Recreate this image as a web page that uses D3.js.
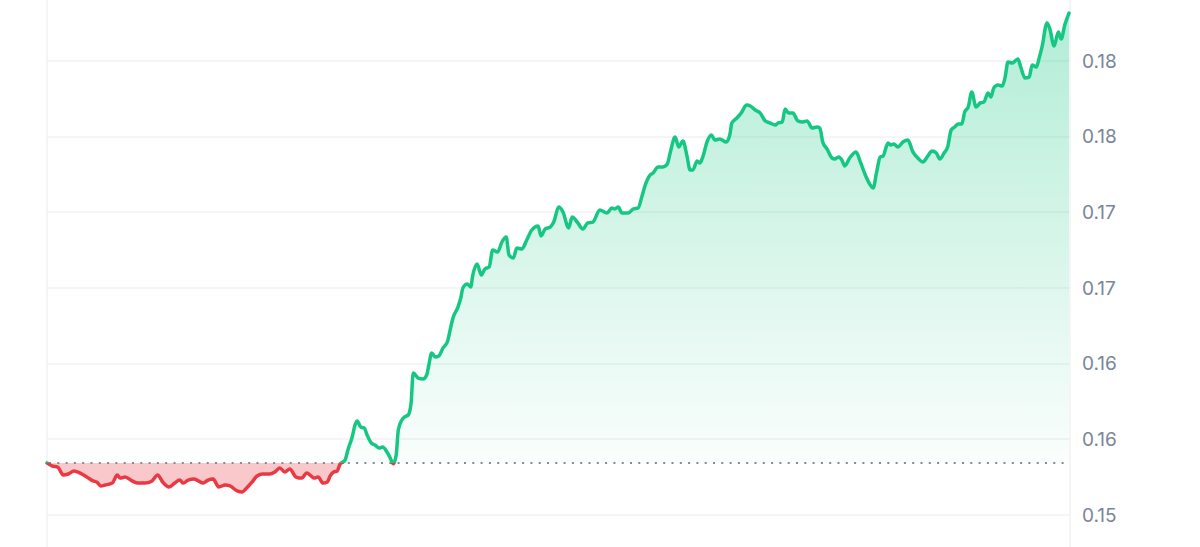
<!DOCTYPE html>
<html>
<head>
<meta charset="utf-8">
<script src="https://cdn.jsdelivr.net/npm/d3@7"></script>
<style>
  body { margin: 0; background: #fff; }
  svg { display: block; font-family: Inter, "Noto Sans", sans-serif; }
</style>
</head>
<body>
<div id="chart"></div>
<script>
// Minutes since the start of the 24h window
const minutes = [
  0, 7, 15, 23, 30, 38, 46, 56, 65, 70,
  76, 82, 92, 99, 103, 110, 120, 128, 138, 148,
  156, 163, 172, 180, 187, 192, 199, 207, 220, 227,
  234, 242, 251, 258, 268, 275, 280, 289, 296, 304,
  314, 321, 328, 335, 342, 351, 359, 366, 372, 376,
  382, 389, 395, 399, 404, 409, 413, 417, 420, 424,
  430, 434, 437, 442, 447, 451, 457, 462, 468, 473,
  479, 483, 488, 492, 495, 500, 504, 509, 513, 516,
  523, 530, 535, 538, 542, 547, 552, 558, 564, 568,
  572, 579, 583, 586, 592, 597, 600, 606, 612, 617,
  623, 628, 635, 641, 647, 651, 657, 662, 669, 676,
  683, 692, 696, 702, 709, 714, 721, 727, 735, 740,
  747, 755, 762, 769, 779, 789, 796, 800, 805, 810,
  819, 826, 833, 838, 843, 850, 854, 861, 868, 874,
  878, 885, 890, 896, 902, 906, 910, 916, 920, 924,
  930, 936, 941, 948, 957, 962, 965, 972, 978, 986,
  991, 998, 1005, 1012, 1019, 1026, 1030, 1036, 1040, 1045,
  1051, 1058, 1065, 1071, 1078, 1085, 1089, 1093, 1099, 1106,
  1110, 1115, 1120, 1124, 1131, 1140, 1146, 1153, 1160, 1164,
  1169, 1174, 1178, 1185, 1189, 1193, 1199, 1206, 1213, 1220,
  1227, 1234, 1241, 1247, 1253, 1258, 1264, 1269, 1274, 1279,
  1284, 1289, 1293, 1298, 1303, 1309, 1315, 1320, 1326, 1330,
  1334, 1340, 1346, 1350, 1354, 1360, 1368, 1372, 1378, 1384,
  1388, 1394, 1398, 1402, 1409, 1413, 1419, 1425, 1429, 1434,
  1440
];

const prices = [
  0.15844, 0.15824, 0.15817, 0.15764, 0.15771, 0.15791, 0.15778, 0.15751, 0.15725, 0.15718,
  0.15692, 0.15698, 0.15711, 0.15764, 0.15744, 0.15751, 0.15725, 0.15711, 0.15711, 0.15725,
  0.15764, 0.15718, 0.15685, 0.15711, 0.15731, 0.15711, 0.15731, 0.15738, 0.15711, 0.15731,
  0.15738, 0.15685, 0.15698, 0.15692, 0.15659, 0.15652, 0.15672, 0.15718, 0.15758, 0.15771,
  0.15771, 0.15784, 0.15811, 0.15784, 0.15804, 0.15751, 0.15744, 0.15778, 0.15758, 0.15744,
  0.15751, 0.15711, 0.15718, 0.15758, 0.15784, 0.15791, 0.15837, 0.15850, 0.15863, 0.15930,
  0.16015, 0.16095, 0.16121, 0.16082, 0.16075, 0.16029, 0.15976, 0.15963, 0.15943, 0.15949,
  0.15916, 0.15883, 0.15838, 0.15896, 0.16062, 0.16128, 0.16148, 0.16161, 0.16240, 0.16438,
  0.16405, 0.16399, 0.16425, 0.16491, 0.16571, 0.16544, 0.16551, 0.16604, 0.16643, 0.16722,
  0.16802, 0.16874, 0.16934, 0.17000, 0.17026, 0.17007, 0.17086, 0.17159, 0.17086, 0.17126,
  0.17139, 0.17251, 0.17238, 0.17304, 0.17337, 0.17218, 0.17198, 0.17264, 0.17258, 0.17317,
  0.17383, 0.17410, 0.17344, 0.17390, 0.17403, 0.17436, 0.17535, 0.17502, 0.17397, 0.17469,
  0.17436, 0.17390, 0.17430, 0.17436, 0.17515, 0.17496, 0.17529, 0.17522, 0.17535, 0.17496,
  0.17496, 0.17522, 0.17529, 0.17601, 0.17681, 0.17747, 0.17760, 0.17800, 0.17800, 0.17819,
  0.17892, 0.17998, 0.17932, 0.17971, 0.17866, 0.17780, 0.17780, 0.17839, 0.17826, 0.17866,
  0.17965, 0.18011, 0.17978, 0.17985, 0.17965, 0.18011, 0.18090, 0.18123, 0.18156, 0.18209,
  0.18203, 0.18176, 0.18156, 0.18104, 0.18090, 0.18077, 0.18090, 0.18097, 0.18183, 0.18156,
  0.18156, 0.18104, 0.18097, 0.18104, 0.18057, 0.18064, 0.18057, 0.17965, 0.17919, 0.17859,
  0.17852, 0.17866, 0.17846, 0.17806, 0.17859, 0.17899, 0.17833, 0.17747, 0.17681, 0.17661,
  0.17767, 0.17866, 0.17872, 0.17958, 0.17945, 0.17952, 0.17932, 0.17965, 0.17978, 0.17899,
  0.17859, 0.17833, 0.17872, 0.17905, 0.17892, 0.17852, 0.17892, 0.17932, 0.18044, 0.18064,
  0.18084, 0.18084, 0.18163, 0.18196, 0.18295, 0.18196, 0.18223, 0.18229, 0.18289, 0.18262,
  0.18322, 0.18341, 0.18335, 0.18394, 0.18493, 0.18487, 0.18513, 0.18460, 0.18388, 0.18394,
  0.18474, 0.18460, 0.18520, 0.18593, 0.18751, 0.18712, 0.18599, 0.18692, 0.18645, 0.18738,
  0.18817
];

// Y axis ticks (labels are truncated to two decimals, as in the source)
const tickValues = [0.155, 0.16, 0.165, 0.17, 0.175, 0.18, 0.185];
const tickLabels = ["0.15", "0.16", "0.16", "0.17", "0.17", "0.18", "0.18"];

const width = 1200;
const height = 547;
const plot = { left: 47, right: 1069 };

const data = minutes.map((m, i) => ({ t: m, v: prices[i] }));
const base = prices[0];

const svg = d3.select("#chart")
    .append("svg")
    .attr("width", width)
    .attr("height", height);

const x = d3.scaleLinear().domain([0, 1440]).range([plot.left, plot.right]);
const y = d3.scaleLinear().domain([0.155, 0.185]).range([515, 61]);
const yBase = y(base);

// Defs: clip regions above / below the opening price, and the green fade
const defs = svg.append("defs");
defs.append("clipPath").attr("id", "above")
    .append("rect").attr("x", 0).attr("y", 0).attr("width", width).attr("height", yBase);
defs.append("clipPath").attr("id", "below")
    .append("rect").attr("x", 0).attr("y", yBase).attr("width", width).attr("height", height - yBase);

const grad = defs.append("linearGradient")
    .attr("id", "greenFade")
    .attr("gradientUnits", "userSpaceOnUse")
    .attr("x1", 0).attr("y1", 0).attr("x2", 0).attr("y2", yBase);
grad.append("stop").attr("offset", "0%").attr("stop-color", "#16c784").attr("stop-opacity", 0.34);
grad.append("stop").attr("offset", "100%").attr("stop-color", "#16c784").attr("stop-opacity", 0.02);

// Gridlines
svg.append("g")
    .selectAll("line")
    .data(tickValues)
    .join("line")
    .attr("x1", plot.left)
    .attr("x2", plot.right + 1)
    .attr("y1", d => Math.round(y(d)))
    .attr("y2", d => Math.round(y(d)))
    .attr("stroke", "#eff2f5")
    .attr("stroke-width", 1.5);

// Vertical frame lines
svg.append("g")
    .selectAll("line")
    .data([plot.left, plot.right + 1])
    .join("line")
    .attr("x1", d => d).attr("x2", d => d)
    .attr("y1", 0).attr("y2", height)
    .attr("stroke", "#eff2f5")
    .attr("stroke-width", 1.5);

// Areas
const area = d3.area()
    .x(d => x(d.t))
    .y0(yBase)
    .y1(d => y(d.v));

svg.append("path")
    .datum(data)
    .attr("clip-path", "url(#above)")
    .attr("fill", "url(#greenFade)")
    .attr("d", area);

svg.append("path")
    .datum(data)
    .attr("clip-path", "url(#below)")
    .attr("fill", "#ea3943")
    .attr("fill-opacity", 0.28)
    .attr("d", area);

// Opening price dotted line
svg.append("line")
    .attr("x1", plot.left + 2)
    .attr("x2", plot.right)
    .attr("y1", yBase)
    .attr("y2", yBase)
    .attr("stroke", "#808a9d")
    .attr("stroke-width", 2)
    .attr("stroke-dasharray", "2,6.3");

// Price line, green above / red below
const line = d3.line()
    .x(d => x(d.t))
    .y(d => y(d.v))
    .curve(d3.curveMonotoneX);

svg.append("path")
    .datum(data)
    .attr("clip-path", "url(#above)")
    .attr("fill", "none")
    .attr("stroke", "#16c784")
    .attr("stroke-width", 3.5)
    .attr("stroke-linejoin", "round")
    .attr("stroke-linecap", "round")
    .attr("d", line);

svg.append("path")
    .datum(data)
    .attr("clip-path", "url(#below)")
    .attr("fill", "none")
    .attr("stroke", "#ea3943")
    .attr("stroke-width", 3.5)
    .attr("stroke-linejoin", "round")
    .attr("stroke-linecap", "round")
    .attr("d", line);

// Right axis labels
const yAxis = d3.axisRight(y)
    .tickValues(tickValues)
    .tickFormat((d, i) => tickLabels[i])
    .tickSize(0)
    .tickPadding(13);

const axisG = svg.append("g")
    .attr("transform", `translate(${plot.right}, 0)`)
    .call(yAxis);
axisG.select(".domain").remove();
axisG.selectAll("text")
    .attr("fill", "#7a8599")
    .style("font-size", "19px")
    .style("font-family", "Inter, 'Noto Sans', sans-serif");
</script>
</body>
</html>
